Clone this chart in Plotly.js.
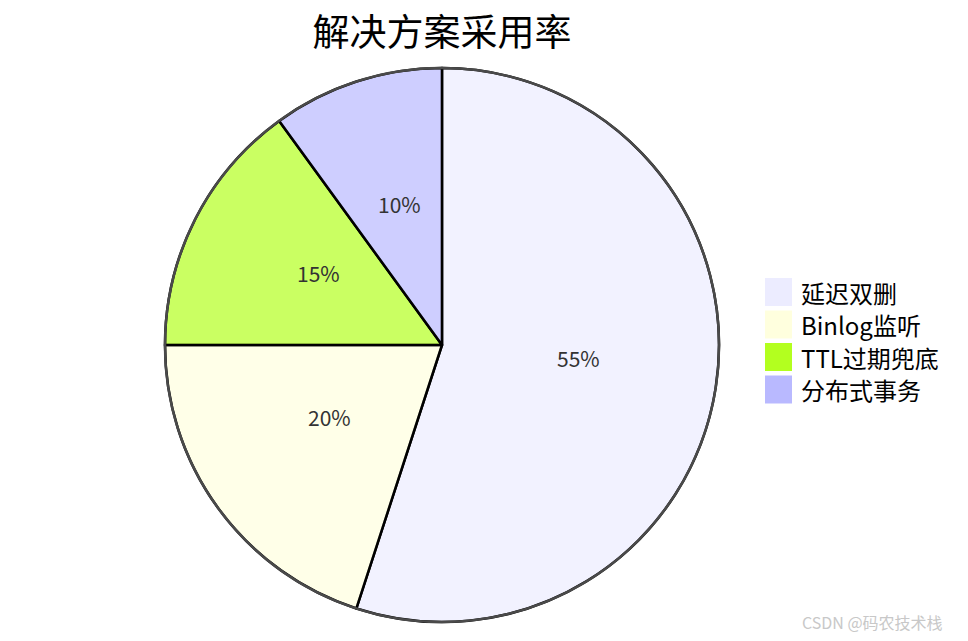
<!DOCTYPE html>
<html>
<head>
<meta charset="utf-8">
<script src="https://cdn.plot.ly/plotly-3.0.1.min.js"></script>
<style>
  html, body { margin: 0; padding: 0; background: #fff; }
  #chart { width: 968px; height: 641px; }
</style>
</head>
<body>
<div id="chart"></div>
<script>
// data
var labels = ["延迟双删", "Binlog监听", "TTL过期兜底", "分布式事务"];
var shares = [55, 20, 15, 10];
var legendColors = ["#ECECFF", "#FFFFDE", "#B3FF1F", "#B9B9FF"];
var sliceColors = ["rgba(236,236,255,0.7)", "rgba(255,255,222,0.7)", "rgba(179,255,31,0.7)", "rgba(185,185,255,0.7)"];

var font = "Noto Sans CJK SC, DejaVu Sans, sans-serif";

var W = 968, H = 641;
var cx = 442, cy = 345, r = 277;

var data = [{
  type: "pie",
  labels: labels,
  values: shares,
  sort: false,
  direction: "clockwise",
  rotation: 0,
  domain: { x: [(cx - r) / W, (cx + r) / W], y: [(H - cy - r) / H, (H - cy + r) / H] },
  marker: { colors: sliceColors, line: { color: "#000", width: 2.5 } },
  textinfo: "none",
  hoverinfo: "label+percent",
  showlegend: false
}];

var shapes = [{
  type: "circle", xref: "paper", yref: "paper", layer: "above",
  x0: (cx - r) / W, x1: (cx + r) / W, y0: (H - cy - r) / H, y1: (H - cy + r) / H,
  line: { color: "#4a4a4a", width: 2.5 }
}];
var annotations = [];

// percentage labels, placed at the middle angle of each slice
var total = shares.reduce(function (a, b) { return a + b; }, 0);
var acc = 0;
shares.forEach(function (v) {
  var mid = (acc + v / 2) / total * 2 * Math.PI;
  acc += v;
  var lr = 0.5 * r;
  annotations.push({
    text: v + "%",
    xref: "paper", yref: "paper",
    x: (cx + lr * Math.sin(mid)) / W,
    y: (H - cy + lr * Math.cos(mid)) / H,
    yshift: 9,
    xanchor: "center", yanchor: "middle",
    showarrow: false,
    font: { size: 21, color: "#333", family: font }
  });
});

// legend: coloured squares with labels
labels.forEach(function (lab, i) {
  var top = 278 + i * 32.5;
  shapes.push({
    type: "rect", xref: "paper", yref: "paper",
    x0: 765 / W, x1: 792 / W, y0: (H - top - 28) / H, y1: (H - top) / H,
    fillcolor: legendColors[i], line: { width: 0 }
  });
  annotations.push({
    text: lab,
    xref: "paper", yref: "paper",
    x: 799 / W, xanchor: "left",
    y: (H - top - 14) / H, yanchor: "middle",
    showarrow: false,
    font: { size: 24, color: "#000", family: font }
  });
});

annotations.push({
  text: "CSDN @码农技术栈",
  xref: "paper", yref: "paper",
  x: 945 / W, xanchor: "right",
  y: 1 - 622 / H, yanchor: "middle",
  showarrow: false,
  font: { size: 16, color: "#c8c8c8", family: font }
});

var layout = {
  width: W,
  height: H,
  margin: { l: 0, r: 0, t: 0, b: 0 },
  paper_bgcolor: "#fff",
  font: { family: font, color: "#000" },
  title: {
    text: "解决方案采用率",
    font: { size: 37, family: font, color: "#000" },
    x: cx / W, xanchor: "center",
    y: 1 - 33 / H, yanchor: "middle"
  },
  showlegend: false,
  shapes: shapes,
  annotations: annotations
};

Plotly.newPlot("chart", data, layout, { displayModeBar: false });
</script>
</body>
</html>
